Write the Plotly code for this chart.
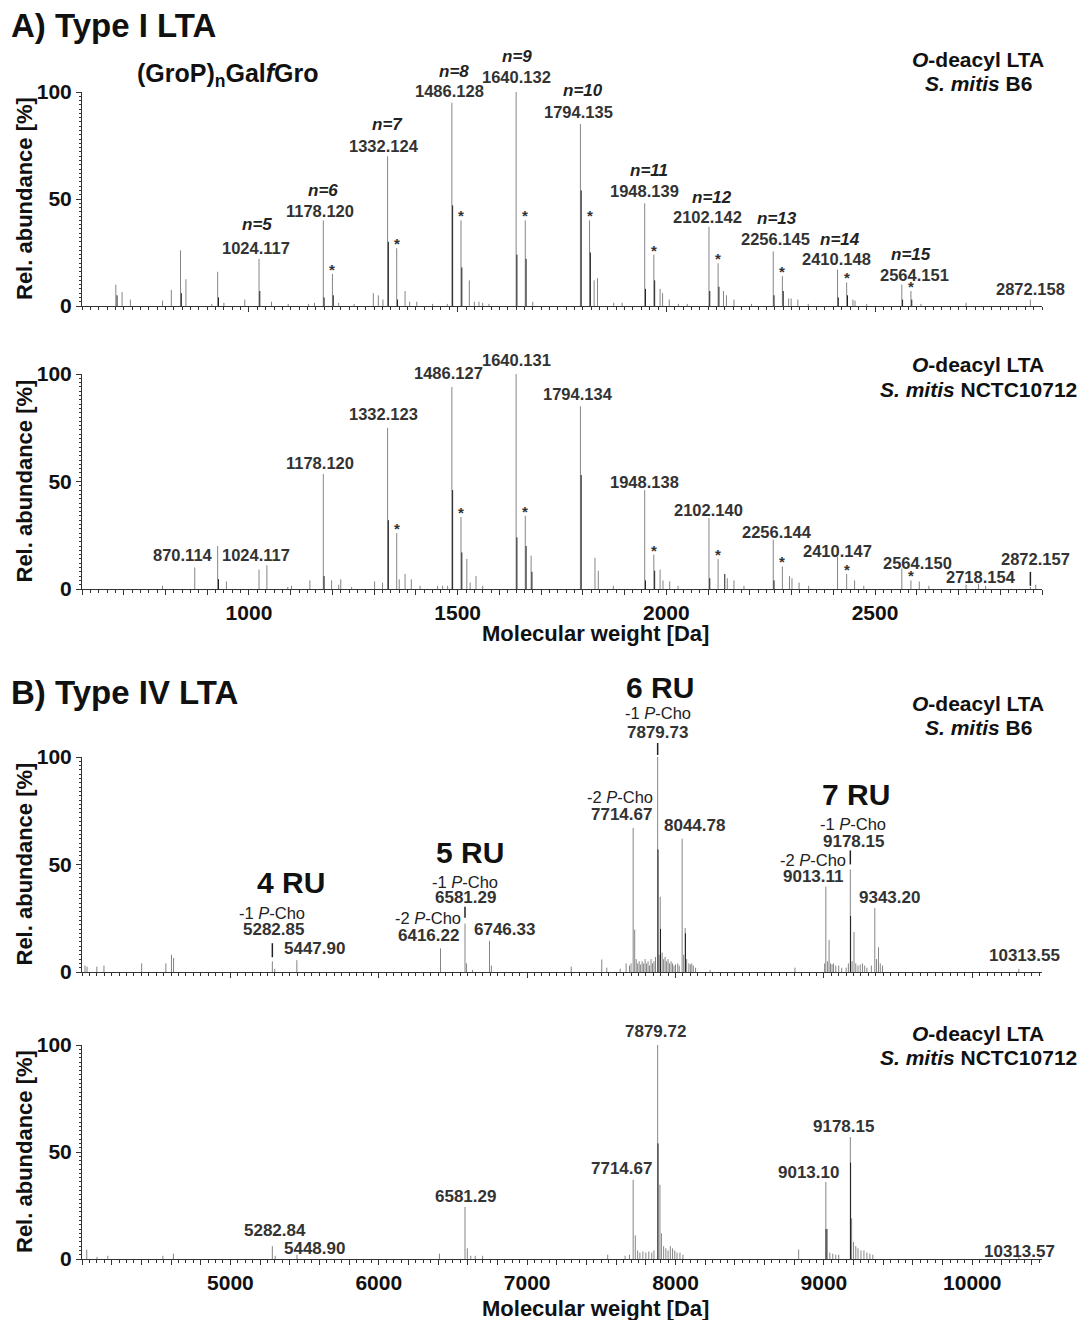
import plotly.graph_objects as go

FONT = "Liberation Sans, Arial, sans-serif"
W, H = 1089, 1320
ML, MR = 82, 47
PW = W - ML - MR

# ---------------- DATA ----------------
# Panel A top: Type I LTA, S. mitis B6
a1_mass = [681, 696, 716, 793, 814, 836, 849, 911, 925, 940, 990, 1024.117, 1054, 1094, 1143, 1157,
           1178.120, 1200, 1215, 1252, 1298, 1310, 1321, 1332.124, 1354, 1374, 1385, 1402, 1440, 1475,
           1486.128, 1508, 1528, 1540, 1551, 1560, 1575, 1640.132, 1662, 1680, 1794.135, 1816, 1827,
           1835, 1874, 1894, 1948.139, 1970, 1985, 1991, 2007, 2029, 2050, 2102.142, 2124, 2137, 2144,
           2162, 2204, 2256.145, 2278, 2293, 2299, 2315, 2340, 2410.148, 2432, 2447, 2452, 2480,
           2564.151, 2586, 2610, 2718, 2872.158]
a1_int = [10, 6.5, 3, 2.5, 7.5, 26, 12.5, 1, 16, 1.5, 3, 22, 2, 1, 1, 1.5,
          40, 15, 1.5, 1, 6, 5, 3, 70, 27, 7, 2, 2, 1, 1,
          95, 40, 12, 2, 2, 1.5, 1, 100, 40, 2, 85, 40, 12,
          13, 1.5, 1.5, 48, 24, 8, 6, 3, 1, 1, 37, 20, 7, 5,
          3, 1, 25.5, 14, 3.5, 3.5, 3, 1, 17, 11, 3, 2.5, 1,
          10, 7, 1, 1.5, 3]
a1_dark_mass = [684, 838, 927, 1026, 1180, 1202, 1334, 1356, 1488, 1510, 1642, 1664, 1796, 1818,
                1950, 1972, 2104, 2126, 2258, 2280, 2412, 2434, 2566, 2588]
a1_dark_int = [5, 6, 4, 7, 4, 5, 30, 3, 47, 18, 24, 22, 54, 25, 8, 12, 7, 9, 5, 7, 4, 5, 3, 3]
a1_label_mass = [1024.117, 1178.120, 1332.124, 1486.128, 1640.132, 1794.135, 1948.139, 2102.142,
                 2256.145, 2410.148, 2564.151, 2872.158]
a1_label_n = [5, 6, 7, 8, 9, 10, 11, 12, 13, 14, 15, None]
a1_star_mass = [1200, 1354, 1508, 1662, 1816, 1970, 2124, 2278, 2432, 2586]

# Panel A bottom: Type I LTA, S. mitis NCTC10712
a2_mass = [793, 870.114, 925, 946, 1024.117, 1043, 1093, 1102, 1146, 1178.120, 1198, 1215, 1220, 1246,
           1301, 1320, 1332.123, 1354, 1360, 1374, 1389, 1410, 1452, 1464, 1476, 1486.127, 1508, 1522,
           1530, 1544, 1560, 1640.131, 1662, 1676, 1794.134, 1829, 1837, 1873, 1948.138, 1970, 1985,
           1992, 2008, 2028, 2102.140, 2124, 2146, 2162, 2186, 2256.144, 2278, 2295, 2301, 2318, 2341,
           2410.147, 2432, 2451, 2473, 2564.150, 2586, 2606, 2629, 2718.154, 2748, 2765, 2872.157, 2885]
a2_int = [1.5, 10, 20, 3.5, 9, 11, 1, 1.5, 4, 53.5, 4, 2, 4.5, 1,
          3.5, 3, 75, 26, 4.5, 7, 4.5, 1.5, 1.5, 1.5, 1.5, 94, 33.5, 14,
          3, 6, 1.5, 100, 34, 15.5, 85, 14.5, 8.5, 1.5, 46, 16, 9,
          4, 3.5, 1.5, 33, 14, 5, 4, 1.5, 23, 10.5, 6, 5, 3, 1.5,
          15, 7, 4, 1.5, 9.6, 4, 3.5, 1.5, 2, 2.5, 1.5, 1, 2]
a2_dark_mass = [927, 1180, 1334, 1488, 1510, 1642, 1664, 1678, 1796, 1950, 1972, 2104, 2140, 2258]
a2_dark_int = [4.6, 6, 32, 46, 17, 24, 20, 8, 53, 4, 8.5, 5, 7, 4]
a2_label_mass = [870.114, 1024.117, 1178.120, 1332.123, 1486.127, 1640.131, 1794.134, 1948.138,
                 2102.140, 2256.144, 2410.147, 2564.150, 2718.154, 2872.157]
a2_star_mass = [1354, 1508, 1662, 1970, 2124, 2278, 2432, 2586]

# Panel B top: Type IV LTA, S. mitis B6
b1_mass = [4020, 4034, 4100, 4148, 4402, 4565, 4603, 4617, 5282.85, 5299, 5447.90, 6416.22, 6581.29,
           6591, 6632, 6746.33, 6759, 7297, 7503, 7537, 7627, 7667, 7690, 7700, 7714.67, 7725, 7735,
           7745, 7755, 7765, 7775, 7785, 7795, 7805, 7815, 7825, 7835, 7845, 7855, 7865, 7879.73, 7890,
           7897, 7910, 7920, 7930, 7940, 7950, 7960, 7970, 7980, 7990, 8000, 8015, 8025, 8044.78, 8055,
           8065, 8075, 8090, 8100, 8110, 8120, 8135, 8233, 8805, 9005, 9013.11, 9025, 9035, 9045, 9055,
           9065, 9080, 9100, 9120, 9150, 9165, 9178.15, 9190, 9203, 9215, 9230, 9245, 9260, 9275, 9290,
           9320, 9343.20, 9355, 9368, 9380, 9395, 10313.55]
b1_int = [3, 2.5, 2.5, 3, 4, 4, 8, 6.5, 5, 1.5, 5.5, 11, 22.5,
          4, 1, 14.5, 3, 2.5, 5.8, 2, 1.5, 4, 3, 4, 67, 19.7, 6,
          4, 5, 3.5, 5, 4, 6, 4, 5, 3, 6, 4, 5, 7, 100, 8,
          35, 9, 6, 7, 5, 6, 4, 5, 4, 3, 3.5, 4, 3, 62, 8,
          20.5, 6, 4, 3.5, 4, 3, 2, 1, 2, 4, 39.7, 5, 14.8, 4, 3.5,
          4, 3, 3, 2, 2, 4, 47.7, 5, 18.6, 4, 3, 3.5, 4, 3, 2,
          3, 29.7, 6, 11.5, 4, 3, 1.5]
b1_dark_mass = [7882, 7899, 8067, 9180]
b1_dark_int = [57, 20, 18, 26]
b1_label_mass = [5282.85, 5447.90, 6416.22, 6581.29, 6746.33, 7714.67, 7879.73, 8044.78, 9013.11,
                 9178.15, 9343.20, 10313.55]
b1_ru_mass = [5282.85, 6581.29, 7879.73, 9178.15]
b1_ru_text = ["4 RU", "5 RU", "6 RU", "7 RU"]
b1_m1_mass = [5282.85, 6581.29, 7879.73, 9178.15]   # -1 P-Cho
b1_m2_mass = [6416.22, 7714.67, 9013.11]            # -2 P-Cho

# Panel B bottom: Type IV LTA, S. mitis NCTC10712
b2_mass = [4032, 4101, 4174, 4545, 4616, 5282.84, 5302, 5448.90, 6409, 6581.29, 6597, 6620, 6650, 6700,
           7543, 7660, 7690, 7714.67, 7729, 7745, 7760, 7780, 7800, 7820, 7840, 7855, 7879.72, 7895,
           7905, 7920, 7935, 7950, 7965, 7980, 7995, 8010, 8030, 8050, 8830, 9013.10, 9023, 9040, 9060,
           9080, 9100, 9178.15, 9187, 9200, 9215, 9230, 9250, 9270, 9290, 9310, 9330, 10313.57]
b2_int = [4.4, 1, 1.5, 1.5, 2.5, 6, 1.5, 2, 2.5, 24.3, 5, 1.5, 1.5, 1.5,
          2, 1.5, 2, 37, 11, 4, 3, 3.5, 3, 3.5, 3, 4, 100, 34.7,
          12, 6, 5, 4, 6, 5, 4, 3, 3, 2, 4.4, 36, 14, 3, 2.5,
          2, 2, 57, 19, 8, 6, 5, 4, 4, 3, 2.5, 2, 1.5]
b2_dark_mass = [7882, 9015, 9180]
b2_dark_int = [54, 14, 45]
b2_label_mass = [5282.84, 5448.90, 6581.29, 7714.67, 7879.72, 9013.10, 9178.15, 10313.57]

a_tick_labels = [1000, 1500, 2000, 2500]
b_tick_labels = [5000, 6000, 7000, 8000, 9000, 10000]
y_tick_labels = [0, 50, 100]

# ---------------- LAYOUT CONSTANTS ----------------
A_RANGE = [600, 2900]
B_RANGE = [4000, 10470]
px0 = {"y": 306, "y2": 589, "y3": 972, "y4": 1259}
px100 = {"y": 92, "y2": 374, "y3": 757, "y4": 1045}
SCALE = {k: (px0[k] - px100[k]) / 100 for k in px0}


def dom(k):
    return [1 - px0[k] / H, 1 - px100[k] / H]


def sticks(m, h):
    assert len(m) == len(h)
    xs, ys = [], []
    for a, b in zip(m, h):
        xs += [a, a, None]
        ys += [0, b, None]
    return xs, ys


fig = go.Figure()
panels = [
    ("x", "y", a1_mass, a1_int, a1_dark_mass, a1_dark_int),
    ("x2", "y2", a2_mass, a2_int, a2_dark_mass, a2_dark_int),
    ("x3", "y3", b1_mass, b1_int, b1_dark_mass, b1_dark_int),
    ("x4", "y4", b2_mass, b2_int, b2_dark_mass, b2_dark_int),
]
for xa, ya, m, h, dm, dh in panels:
    xs, ys = sticks(m, h)
    fig.add_trace(go.Scatter(x=xs, y=ys, mode="lines", xaxis=xa, yaxis=ya,
                             line=dict(color="#858585", width=1), hoverinfo="skip", showlegend=False))
    xs, ys = sticks(dm, dh)
    fig.add_trace(go.Scatter(x=xs, y=ys, mode="lines", xaxis=xa, yaxis=ya,
                             line=dict(color="#1e1e1e", width=1), hoverinfo="skip", showlegend=False))

a_tickvals = list(range(A_RANGE[0], A_RANGE[1] + 1, 100))
a_ticktext = [str(v) if v in a_tick_labels else "" for v in a_tickvals]
b_tickvals = list(range(B_RANGE[0], B_RANGE[1] + 1, 200))
b_ticktext = [str(v) if v in b_tick_labels else "" for v in b_tickvals]

axcol = "#333333"
tickfont = dict(family=FONT, size=21, color="#111", weight="bold")


def xaxis(rng, tv, tt, show, anchor, minor_dtick, minor0):
    return dict(range=rng, domain=[0, 1], anchor=anchor, showgrid=False, zeroline=False,
                showline=True, linecolor=axcol, linewidth=1, ticks="outside", ticklen=5,
                tickcolor=axcol, tickmode="array", tickvals=tv, ticktext=tt, tickangle=0,
                showticklabels=show, tickfont=tickfont, automargin=False,
                minor=dict(tickmode="linear", tick0=minor0, dtick=minor_dtick, ticks="outside",
                           ticklen=3, tickcolor=axcol))


def yaxis(k, anchor):
    return dict(range=[0, 100], domain=dom(k), anchor=anchor, showgrid=False, zeroline=False,
                showline=True, linecolor=axcol, linewidth=1, ticks="outside", ticklen=5,
                tickcolor=axcol, tickmode="array", tickvals=y_tick_labels, tickangle=0,
                ticktext=[str(v) for v in y_tick_labels], tickfont=tickfont, automargin=False,
                minor=dict(tickmode="linear", tick0=0, dtick=2, ticks="outside", ticklen=2,
                           tickcolor=axcol))


fig.update_layout(
    width=W, height=H, margin=dict(l=ML, r=MR, t=0, b=0, autoexpand=False),
    paper_bgcolor="white", plot_bgcolor="white",
    xaxis=xaxis(A_RANGE, a_tickvals, a_ticktext, False, "y", 20, 600),
    xaxis2=xaxis(A_RANGE, a_tickvals, a_ticktext, True, "y2", 20, 600),
    xaxis3=xaxis(B_RANGE, b_tickvals, b_ticktext, False, "y3", 50, 4000),
    xaxis4=xaxis(B_RANGE, b_tickvals, b_ticktext, True, "y4", 50, 4000),
    yaxis=yaxis("y", "x"), yaxis2=yaxis("y2", "x2"),
    yaxis3=yaxis("y3", "x3"), yaxis4=yaxis("y4", "x4"),
)

ann = []


def A(text, x, y, xref, yref, size, color="#333", xshift=0, yshift=0, xanchor="center",
      yanchor="middle", angle=0, weight="bold"):
    # keep data-referenced labels inside the axis range (plotly hides them otherwise)
    if yref != "paper" and y > 100:
        yshift += (y - 100) * SCALE[yref]
        y = 100
    ann.append(dict(text=text, x=x, y=y, xref=xref, yref=yref, showarrow=False,
                    font=dict(family=FONT, size=size, color=color, weight=weight),
                    xshift=xshift, yshift=yshift, xanchor=xanchor, yanchor=yanchor,
                    textangle=angle))


def ppx(px):
    return (px - ML) / PW


def ppy(py):
    return 1 - py / H


# Panel titles and side texts
A("A) Type I LTA", ppx(9), ppy(26), "paper", "paper", 33, "#111", xanchor="left")
A("B) Type IV LTA", ppx(9), ppy(692), "paper", "paper", 33, "#111", xanchor="left")
A("(GroP)<sub>n</sub>Gal<i>f</i>Gro", ppx(228), ppy(75), "paper", "paper", 25, "#111")
for (t1y, t2y, strain) in [(60, 84, "B6"), (365, 389, "NCTC10712"),
                           (703, 727, "B6"), (1033, 1057, "NCTC10712")]:
    A("<i>O</i>-deacyl LTA", ppx(978), ppy(t1y), "paper", "paper", 21, "#111")
    A("<i>S. mitis</i> " + strain, ppx(978), ppy(t2y), "paper", "paper", 21, "#111")
for k in ["y", "y2", "y3", "y4"]:
    A("Rel. abundance [%]", ppx(24), 1 - (px0[k] + px100[k]) / 2 / H, "paper", "paper", 22,
      "#111", angle=-90)
A("Molecular weight [Da]", ppx(595), ppy(634), "paper", "paper", 22, "#111")
A("Molecular weight [Da]", ppx(595), ppy(1308), "paper", "paper", 22, "#111")

# Panel A top labels
a1_lab_y = [27.1, 44.4, 74.8, 100.5, 107.0, 90.7, 53.7, 41.6, 31.3, 22.0, 14.5, 7.9]
a1_lab_dx = [-3, -3, -4, -2, 0, -2, 0, -1, 2, -1, 13, 0]
a1_n_y = [37.9, 54.2, 85.0, 109.8, 116.8, 100.5, 63.1, 50.5, 41.1, 31.3, 24.3]
a1_n_dx = [-2, 0, 0, 2, 1, 3, 4, 3, 4, 2, 9]
for i, m in enumerate(a1_label_mass):
    A(f"{m:.3f}", m, a1_lab_y[i], "x", "y", 16.5, "#333", xshift=a1_lab_dx[i])
    if a1_label_n[i] is not None:
        A(f"<i>n={a1_label_n[i]}</i>", m, a1_n_y[i], "x", "y", 17, "#222", xshift=a1_n_dx[i])

a1_lookup = dict(zip(a1_mass, a1_int))
for m in a1_star_mass:
    A("*", m, a1_lookup[m], "x", "y", 15, "#333", yanchor="bottom", yshift=-6)

# Panel A bottom labels
a2_lab_y = [15.8, 15.8, 58.6, 81.4, 100.5, 106.5, 90.7, 49.8, 36.7, 26.5, 17.7, 12.1, 5.6, 14.0]
a2_lab_dx = [-12, -3, -3, -4, -3, 0, -2, 0, 0, 4, 0, 16, 15, 5]
for i, m in enumerate(a2_label_mass):
    A(f"{m:.3f}", m, a2_lab_y[i], "x2", "y2", 16.5, "#333", xshift=a2_lab_dx[i])
a2_lookup = dict(zip(a2_mass, a2_int))
for m in a2_star_mass:
    A("*", m, a2_lookup[m], "x2", "y2", 15, "#333", yanchor="bottom", yshift=-6)

# Panel B top labels
b1_lab_y = [20.0, 10.7, 17.2, 34.5, 20.0, 73.1, 111.3, 68.0, 44.2, 60.5, 34.5, 7.5]
b1_lab_dx = [1, 18, -12, 0, 15, -12, 0, 12, -12, 3, 15, 6]
for i, m in enumerate(b1_label_mass):
    A(f"{m:.2f}", m, b1_lab_y[i], "x3", "y3", 17, "#333", xshift=b1_lab_dx[i])
b1_ru_y = [41.5, 55.4, 132.3, 82.4]
b1_ru_dx = [19, 5, 2, 6]
for i, m in enumerate(b1_ru_mass):
    A(b1_ru_text[i], m, b1_ru_y[i], "x3", "y3", 30, "#111", xshift=b1_ru_dx[i])
b1_m1_y = [27.5, 41.9, 120.6, 68.9]
b1_m1_dx = [0, 0, 0, 3]
for i, m in enumerate(b1_m1_mass):
    A("-1 <i>P</i>-Cho", m, b1_m1_y[i], "x3", "y3", 16.5, "#222", xshift=b1_m1_dx[i],
      weight="normal")
b1_m2_y = [25.2, 81.5, 52.2]
for i, m in enumerate(b1_m2_mass):
    A("-2 <i>P</i>-Cho", m, b1_m2_y[i], "x3", "y3", 16.5, "#222", xshift=-13, weight="normal")

# Panel B bottom labels
b2_lab_y = [13.1, 5.1, 29.0, 42.5, 106.1, 40.2, 61.7, 3.3]
b2_lab_dx = [3, 18, 0, -12, -2, -17, -7, 1]
for i, m in enumerate(b2_label_mass):
    A(f"{m:.2f}", m, b2_lab_y[i], "x4", "y4", 17, "#333", xshift=b2_lab_dx[i])

fig.update_layout(annotations=ann)

# Small vertical marker bars above selected peaks (pixel offsets above the peak top)
b1_lookup = dict(zip(b1_mass, b1_int))
marker_specs = [("x3", "y3", 5282.85, b1_lookup[5282.85], 4, 18),
                ("x3", "y3", 6581.29, b1_lookup[6581.29], 6, 17),
                ("x3", "y3", 7879.73, b1_lookup[7879.73], 2, 14),
                ("x3", "y3", 9178.15, b1_lookup[9178.15], 5, 19),
                ("x2", "y2", 2872.157, a2_lookup[2872.157], 1, 15)]
shapes = []
for xa, ya, m, h, o0, o1 in marker_specs:
    top_px = px0[ya] - h * SCALE[ya]
    shapes.append(dict(type="line", xref=xa, yref="paper", x0=m, x1=m,
                       y0=ppy(top_px - o0), y1=ppy(top_px - o1),
                       line=dict(color="#222", width=1.5)))
fig.update_layout(shapes=shapes)

fig.write_html("out.html", config={"displayModeBar": False},
               post_script="document.body.style.margin='0';")
